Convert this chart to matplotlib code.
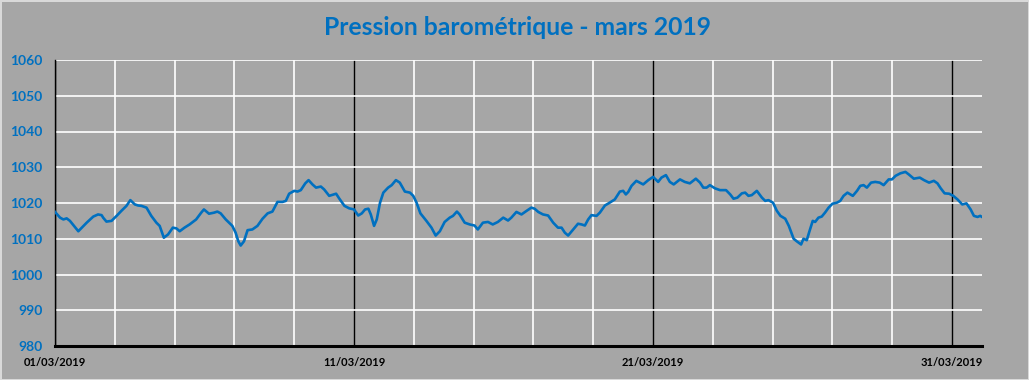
import matplotlib.pyplot as plt
from matplotlib.ticker import MultipleLocator

# Pression barométrique relevée en mars 2019 (jours depuis le 01/03 00h, hPa)
jours = [0.0, 0.17, 0.28, 0.39, 0.5, 0.78, 1.06, 1.28, 1.44, 1.56, 1.61, 1.72, 1.89,
         2.06, 2.22, 2.39, 2.52, 2.67, 2.78, 2.89, 3.06, 3.22, 3.39, 3.5, 3.64, 3.78,
         3.94, 4.06, 4.17, 4.33, 4.5, 4.72, 4.89, 4.98, 5.15, 5.32, 5.43, 5.54, 5.71,
         5.82, 5.93, 6.04, 6.13, 6.21, 6.32, 6.44, 6.6, 6.77, 6.94, 7.11, 7.27, 7.44,
         7.61, 7.72, 7.83, 8.0, 8.11, 8.22, 8.37, 8.48, 8.61, 8.73, 8.89, 9.0, 9.17,
         9.4, 9.51, 9.68, 9.84, 10.0, 10.14, 10.26, 10.37, 10.48, 10.56, 10.67, 10.76,
         10.87, 10.98, 11.14, 11.26, 11.4, 11.53, 11.7, 11.87, 11.98, 12.09, 12.22,
         12.42, 12.59, 12.73, 12.87, 13.03, 13.2, 13.31, 13.44, 13.53, 13.7, 13.87,
         14.03, 14.14, 14.31, 14.48, 14.64, 14.81, 14.99, 15.15, 15.26, 15.43, 15.6,
         15.77, 15.93, 16.04, 16.16, 16.32, 16.49, 16.66, 16.82, 16.94, 17.05, 17.16,
         17.33, 17.49, 17.61, 17.72, 17.83, 17.94, 18.11, 18.22, 18.39, 18.55, 18.72,
         18.89, 19.0, 19.09, 19.17, 19.28, 19.44, 19.67, 19.84, 20.0, 20.17, 20.28,
         20.43, 20.56, 20.69, 20.9, 21.06, 21.23, 21.43, 21.57, 21.68, 21.79, 21.9,
         22.07, 22.24, 22.44, 22.58, 22.69, 22.82, 22.97, 23.08, 23.19, 23.3, 23.47,
         23.64, 23.75, 23.86, 24.01, 24.14, 24.26, 24.42, 24.54, 24.7, 24.82, 24.95,
         25.03, 25.14, 25.23, 25.34, 25.42, 25.53, 25.64, 25.75, 25.87, 26.0, 26.15,
         26.26, 26.37, 26.5, 26.68, 26.82, 26.93, 27.04, 27.15, 27.29, 27.43, 27.58,
         27.71, 27.88, 27.99, 28.11, 28.27, 28.44, 28.55, 28.72, 28.92, 29.06, 29.23,
         29.39, 29.51, 29.62, 29.75, 29.9, 30.04, 30.18, 30.34, 30.48, 30.62, 30.73,
         30.85, 30.94, 31.0]
pression = [1017.5, 1015.9, 1015.4, 1015.7, 1015.0, 1012.1, 1014.5, 1016.2, 1016.8,
            1016.6, 1015.9, 1014.8, 1015.0, 1016.4, 1017.8, 1019.2, 1020.8, 1019.6,
            1019.3, 1019.2, 1018.7, 1016.4, 1014.5, 1013.6, 1010.3, 1011.2, 1013.1,
            1012.9, 1012.1, 1013.1, 1014.0, 1015.4, 1017.3, 1018.2, 1017.0, 1017.3,
            1017.6, 1017.1, 1015.4, 1014.5, 1013.6, 1011.7, 1009.3, 1008.1, 1009.3,
            1012.4, 1012.6, 1013.6, 1015.6, 1017.1, 1017.6, 1020.3, 1020.3, 1020.6,
            1022.6, 1023.4, 1023.2, 1023.6, 1025.5, 1026.4, 1025.2, 1024.3, 1024.6,
            1023.8, 1022.0, 1022.6, 1021.2, 1019.2, 1018.5, 1018.2, 1016.5, 1017.1,
            1018.2, 1018.4, 1016.8, 1013.6, 1015.4, 1020.1, 1022.9, 1024.3, 1025.0,
            1026.4, 1025.7, 1023.2, 1022.9, 1022.0, 1020.1, 1017.1, 1015.0, 1013.1,
            1010.9, 1012.1, 1014.7, 1015.9, 1016.4, 1017.6, 1016.8, 1014.5, 1014.0,
            1013.7, 1012.6, 1014.5, 1014.7, 1014.0, 1014.7, 1015.9, 1015.1, 1015.9,
            1017.5, 1016.8, 1017.8, 1018.7, 1018.4, 1017.5, 1016.8, 1016.5, 1014.5,
            1013.1, 1013.1, 1011.7, 1010.9, 1012.6, 1014.2, 1014.0, 1013.7, 1015.4,
            1016.6, 1016.4, 1017.3, 1019.3, 1020.1, 1021.0, 1023.2, 1023.4, 1022.4,
            1023.1, 1024.8, 1026.2, 1025.2, 1026.4, 1027.3, 1025.9, 1027.1, 1027.8,
            1025.9, 1025.2, 1026.6, 1025.9, 1025.5, 1026.8, 1025.7, 1024.3, 1024.3,
            1025.0, 1024.1, 1023.6, 1023.6, 1022.4, 1021.2, 1021.5, 1022.7, 1022.9,
            1022.0, 1022.2, 1023.4, 1021.5, 1020.6, 1020.8, 1020.1, 1017.8, 1016.4,
            1015.6, 1013.6, 1010.0, 1009.2, 1008.4, 1010.0, 1009.6, 1012.1, 1015.0,
            1014.7, 1015.9, 1016.2, 1017.3, 1018.7, 1019.8, 1020.1, 1020.6, 1022.0,
            1022.9, 1022.0, 1023.4, 1024.8, 1025.0, 1024.3, 1025.7, 1025.9, 1025.7,
            1025.0, 1026.6, 1026.6, 1027.6, 1028.3, 1028.7, 1028.0, 1026.8, 1027.1,
            1026.4, 1025.7, 1026.2, 1025.5, 1024.1, 1022.7, 1022.6, 1022.0, 1021.0,
            1019.6, 1019.9, 1018.2, 1016.4, 1016.1, 1016.4, 1016.1]
dates_labels = ['01/03/2019', '11/03/2019', '21/03/2019', '31/03/2019']

gris = '#A6A6A6'
bleu = '#0070C0'

fig = plt.figure(figsize=(10.29, 3.8), dpi=100, facecolor=gris,
                 edgecolor='#D9D9D9', linewidth=2)
ax = fig.add_axes([55/1029, 34/380, 927/1029, 286/380])
ax.set_facecolor(gris)

ax.plot(jours, pression, color=bleu, linewidth=1.9, zorder=3)

ax.set_xlim(0, 31)
ax.set_ylim(980, 1060)
ax.yaxis.set_major_locator(MultipleLocator(10))
ax.set_xticks([0, 10, 20, 30])
ax.set_xticklabels(dates_labels)
ax.xaxis.set_minor_locator(MultipleLocator(2))

# grille : blanche tous les 2 jours, noire tous les 10 jours
ax.grid(axis='y', color='white', linewidth=1.2)
ax.grid(axis='x', which='minor', color='white', linewidth=1.2)
ax.grid(axis='x', which='major', color='black', linewidth=1)
ax.set_axisbelow(True)

for s in ['top', 'right']:
    ax.spines[s].set_visible(False)
ax.spines['bottom'].set_linewidth(2.2)
ax.spines['left'].set_linewidth(1)

ax.tick_params(which='both', length=0)
ax.tick_params(axis='y', pad=9, labelcolor=bleu)
ax.tick_params(axis='x', pad=8, labelcolor='black')
for lab in ax.get_yticklabels():
    lab.set_fontweight('bold')
    lab.set_fontfamily('Lato')
    lab.set_fontsize(10)
for lab in ax.get_xticklabels():
    lab.set_fontweight('bold')
    lab.set_fontfamily('Lato')
    lab.set_fontsize(8)

fig.text(0.5025, 0.928, 'Pression barométrique - mars 2019', ha='center', va='center',
         color=bleu, fontsize=17.8, fontweight='bold', family='Lato')

plt.savefig('out.png', dpi=100, facecolor=gris, edgecolor='#D9D9D9')
